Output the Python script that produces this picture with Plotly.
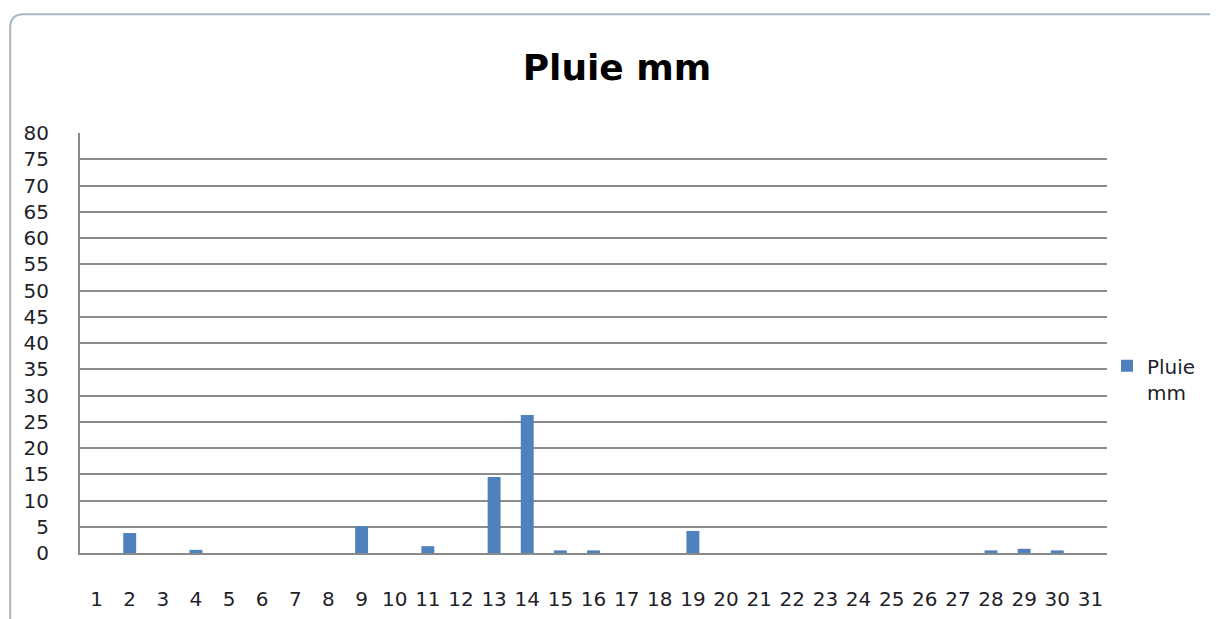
import plotly.graph_objects as go

days = [str(d) for d in range(1, 32)]
pluie = [0, 3.8, 0, 0.6, 0, 0, 0, 0, 5.1, 0, 1.3, 0, 14.5, 26.3, 0.5, 0.5,
         0, 0, 4.2, 0, 0, 0, 0, 0, 0, 0, 0, 0.5, 0.8, 0.5, 0]
y_ticks = list(range(0, 81, 5))

fig = go.Figure()
fig.add_trace(go.Bar(
    x=days, y=pluie, name="Pluie<br>mm",
    marker=dict(color="#4F81BD", line=dict(width=0)),
    width=0.39,
))

font = "'DejaVu Sans', sans-serif"
txt = "#1f1f2a"
fig.update_layout(
    width=1210, height=611,
    margin=dict(l=72, r=111, t=125, b=66, autoexpand=False),
    paper_bgcolor="white", plot_bgcolor="white",
    title=dict(text="<b>Pluie mm</b>", x=(617 - 8) / 1210, xanchor="center",
               y=1 - (67 - 8) / 611, yanchor="middle",
               font=dict(family=font, size=36, color="#000000")),
    font=dict(family=font, size=20, color=txt),
    showlegend=True,
    legend=dict(x=1.0, y=0.492, xanchor="left", yanchor="top", valign="top",
                font=dict(size=20, color=txt), bgcolor="rgba(0,0,0,0)",
                itemwidth=30),
    xaxis=dict(type="category", showgrid=False, showline=True, linecolor="#898989",
               linewidth=2, ticks="", ticklabelstandoff=27, tickangle=0,
               automargin=False, tickfont=dict(size=20)),
    yaxis=dict(range=[0, 80], tickvals=y_ticks, showgrid=True, gridcolor="#8c8c8c",
               gridwidth=1.5, showline=True, linecolor="#898989", linewidth=2,
               ticks="", zeroline=False, ticklabelstandoff=25, automargin=False,
               tickfont=dict(size=20)),
    shapes=[
        dict(type="path", xref="paper", yref="paper",
             path="M -0.068 -0.2 L -0.068 1.25 Q -0.068 1.283 -0.055 1.283 L 1.12 1.283",
             line=dict(color="#a9b6c0", width=2)),
    ],
)

fig.write_html("out.html")
